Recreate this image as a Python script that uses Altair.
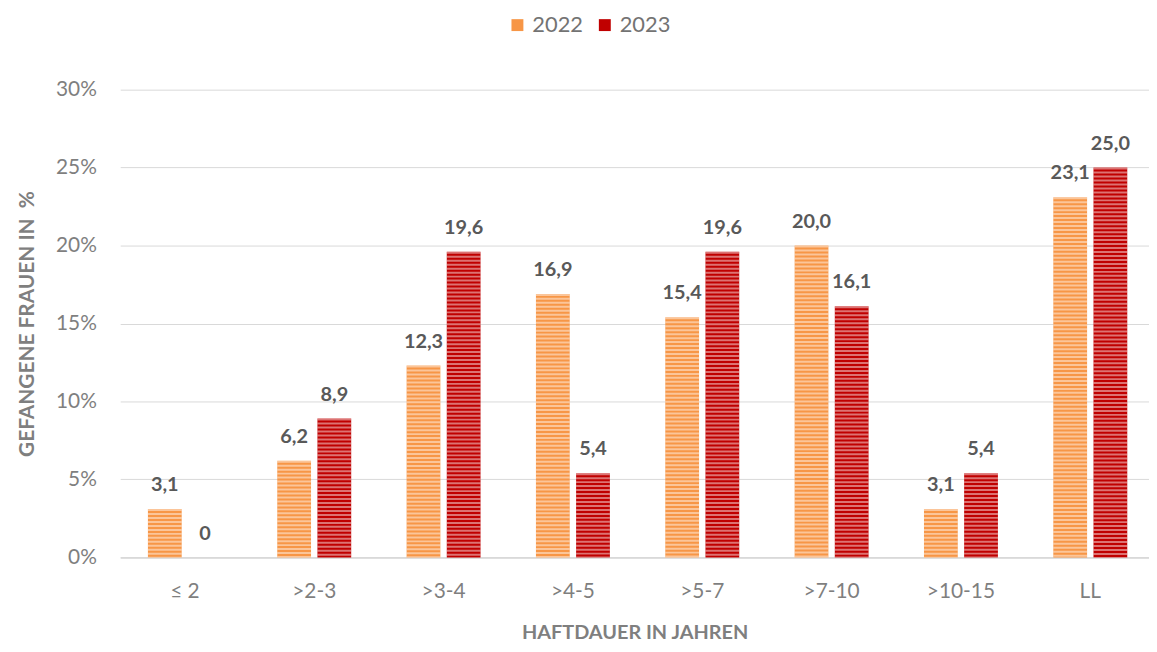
import altair as alt
import pandas as pd

categories = ["≤ 2", ">2-3", ">3-4", ">4-5", ">5-7", ">7-10", ">10-15", "LL"]
years = ["2022", "2023"]
v2022 = [3.1, 6.2, 12.3, 16.9, 15.4, 20.0, 3.1, 23.1]
v2023 = [0, 8.9, 19.6, 5.4, 19.6, 16.1, 5.4, 25.0]
y_ticks = [0, 0.05, 0.10, 0.15, 0.20, 0.25, 0.30]
colors = ["#F79646", "#C00000"]

rows = []
for yr, vals in zip(years, [v2022, v2023]):
    for c, v in zip(categories, vals):
        rows.append({
            "cat": c,
            "year": yr,
            "value": v / 100,
            "label": "0" if v == 0 else f"{v:.1f}".replace(".", ","),
        })
df = pd.DataFrame(rows)

FONT = "Lato"

x = alt.X(
    "cat:N",
    sort=categories,
    scale=alt.Scale(paddingInner=0, paddingOuter=0),
    axis=alt.Axis(
        title="HAFTDAUER IN JAHREN",
        labelAngle=0,
        labelFontSize=21,
        labelColor="#7F7F7F",
        labelFont=FONT,
        labelPadding=23,
        ticks=False,
        domainColor="#D9D9D9",
        domainWidth=2,
        titleFont=FONT,
        titleFontSize=20,
        titleFontWeight="bold",
        titleColor="#7F7F7F",
        titlePadding=22,
        titleX=518,
        grid=False,
    ),
)
xo = alt.XOffset(
    "year:N",
    sort=years,
    scale=alt.Scale(paddingInner=0, paddingOuter=0.61),
)
y = alt.Y(
    "value:Q",
    scale=alt.Scale(domain=[0, 0.3]),
    axis=alt.Axis(
        values=y_ticks,
        format=".0%",
        title="GEFANGENE FRAUEN IN\u00a0\u00a0%",
        labelFontSize=21,
        labelColor="#7F7F7F",
        labelFont=FONT,
        labelPadding=24,
        ticks=False,
        domain=False,
        grid=True,
        gridColor="#D9D9D9",
        gridWidth=1,
        titleFont=FONT,
        titleFontSize=21,
        titleFontWeight="bold",
        titleColor="#7F7F7F",
        titlePadding=18,
    ),
)

color = alt.Color(
    "year:N",
    sort=years,
    scale=alt.Scale(domain=years, range=colors),
    legend=alt.Legend(
        title=None,
        orient="none",
        direction="horizontal",
        legendX=389,
        legendY=-76,
        symbolType="square",
        symbolSize=144,
        labelFontSize=22,
        labelFont=FONT,
        labelColor="#737373",
        columnPadding=10,
        labelOffset=4,
    ),
)

base = alt.Chart(df)

bars = base.mark_bar(width=34).encode(
    x=x, xOffset=xo, y=y, y2=alt.datum(0), color=color
)
stripes = base.mark_rule(
    strokeWidth=34, strokeCap="butt", color="white", strokeOpacity=0.45,
    strokeDash=[2, 2],
).encode(x=x, xOffset=xo, y=y, y2=alt.datum(0))

labels = base.mark_text(
    dy=-18, baseline="alphabetic", fontSize=20, fontWeight="bold",
    font=FONT, color="#595959",
).encode(x=x, xOffset=xo, y=y, text="label:N")

chart = (
    alt.layer(bars, stripes, labels)
    .properties(
        width=1042,
        height=471,
        autosize=alt.AutoSizeParams(type="none"),
        padding={"left": 113, "top": 80, "right": -6, "bottom": 85},
    )
    .configure_view(stroke=None)
)

chart.save("out.html", embed_options={"renderer": "svg", "actions": False})
